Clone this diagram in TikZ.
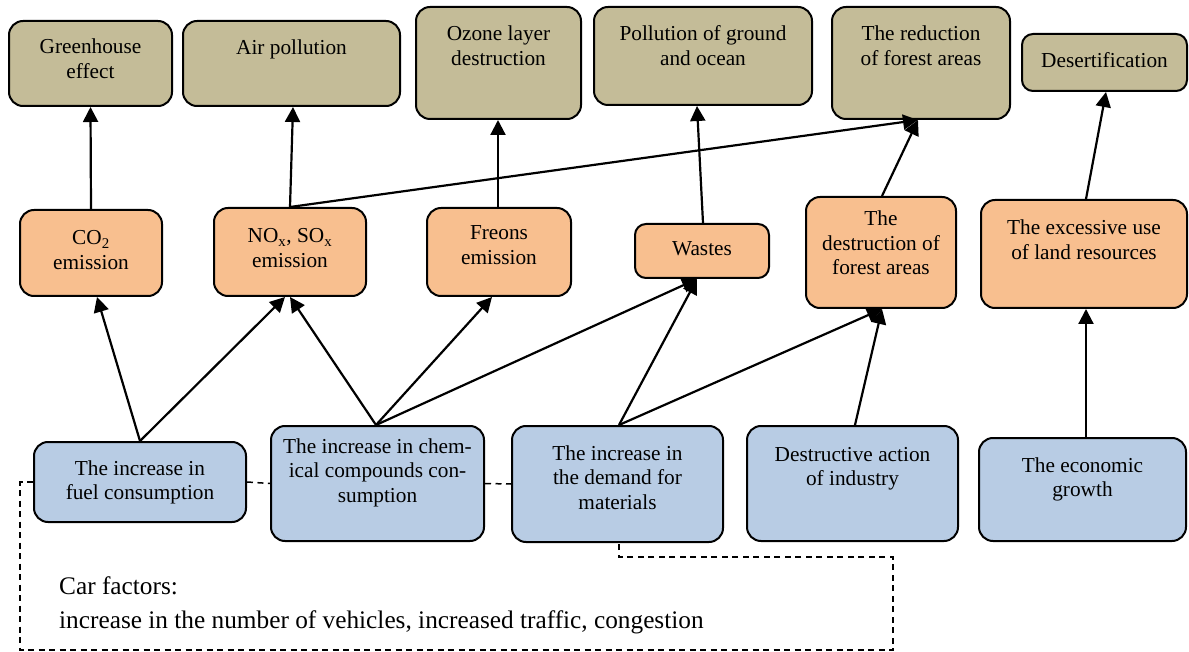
\documentclass[tikz,border=0pt]{standalone}
\usepackage{fontspec}
\setmainfont{Liberation Serif}
\usetikzlibrary{arrows.meta}
\definecolor{tanc}{RGB}{196,188,152}
\definecolor{orangec}{RGB}{248,191,143}
\definecolor{bluec}{RGB}{184,204,228}
\newcommand{\bt}[1]{\parbox[t]{300pt}{\centering\rmfamily #1}}
\begin{document}
\begin{tikzpicture}[x=1pt,y=-1pt,
  boxbase/.style={draw=black, line width=2pt, rounded corners=14pt, inner sep=0pt},
  tanbox/.style={boxbase, fill=tanc},
  orbox/.style={boxbase, fill=orangec},
  blbox/.style={boxbase, fill=bluec},
  txt/.style={anchor=base, inner sep=0pt, font=\rmfamily\fontsize{21.3}{24.5}\selectfont},
  arr/.style={line width=2.2pt, -{Triangle[length=15pt,width=15pt]}},
  dsh/.style={line width=1.5pt, dash pattern=on 6pt off 4.5pt}
]
\useasboundingbox (0,0) rectangle (1189,652);
% top row
\node[tanbox, minimum width=163pt, minimum height=85pt] (gh) at (90.5,63.5) {};
\node[tanbox, minimum width=217pt, minimum height=85pt] (air) at (291.5,63.5) {};
\node[tanbox, minimum width=165pt, minimum height=112pt] (oz) at (498.5,63) {};
\node[tanbox, minimum width=218pt, minimum height=98pt] (pol) at (703,56) {};
\node[tanbox, minimum width=178pt, minimum height=112pt] (red) at (921,63) {};
\node[tanbox, minimum width=165pt, minimum height=57pt, rounded corners=11pt] (des) at (1104.5,62.5) {};
% middle row
\node[orbox, minimum width=142pt, minimum height=86pt] (co2) at (91,253) {};
\node[orbox, minimum width=152pt, minimum height=88pt] (nox) at (290,252) {};
\node[orbox, minimum width=144pt, minimum height=88pt] (fre) at (499,252) {};
\node[orbox, minimum width=134pt, minimum height=54pt, rounded corners=11pt] (was) at (702,251) {};
\node[orbox, minimum width=150pt, minimum height=111pt] (dst) at (881,252.5) {};
\node[orbox, minimum width=206pt, minimum height=108pt] (exc) at (1084,254) {};
% bottom row
\node[blbox, minimum width=212pt, minimum height=80pt] (fuel) at (140,482) {};
\node[blbox, minimum width=213pt, minimum height=115pt] (chem) at (377.5,483.5) {};
\node[blbox, minimum width=211pt, minimum height=116pt] (mat) at (617.5,484) {};
\node[blbox, minimum width=211pt, minimum height=115pt] (ind) at (852.5,483.5) {};
\node[blbox, minimum width=207pt, minimum height=103pt] (eco) at (1082.5,489.5) {};
% texts
\node[txt] (tgh) at (90.5,54) {\bt{Greenhouse\\effect}};
\node[txt] (tair) at (291.5,55) {\bt{Air pollution}};
\node[txt] (toz) at (498.5,41) {\bt{Ozone layer\\destruction}};
\node[txt] (tpol) at (703,41) {\bt{Pollution of ground\\and ocean}};
\node[txt] (tred) at (921,41) {\bt{The reduction\\of forest areas}};
\node[txt] (tdes) at (1104.5,68) {\bt{Desertification}};
\node[txt] (tco2) at (91,245) {\bt{CO\textsubscript{2}\\emission}};
\node[txt] (tnox) at (290,243) {\bt{NO\textsubscript{x}, SO\textsubscript{x}\\emission}};
\node[txt] (tfre) at (499,240) {\bt{Freons\\emission}};
\node[txt] (twas) at (702,256) {\bt{Wastes}};
\node[txt] (tdst) at (881,226) {\bt{The\\destruction of\\forest areas}};
\node[txt] (texc) at (1084,235) {\bt{The excessive use\\of land resources}};
\node[txt] (tfuel) at (140,475) {\bt{The increase in\\fuel consumption}};
\node[txt] (tchem) at (377.5,453) {\bt{The increase in chem-\\ical compounds con-\\sumption}};
\node[txt] (tmat) at (617.5,460) {\bt{The increase in\\the demand for\\materials}};
\node[txt] (tind) at (852.5,461) {\bt{Destructive action\\of industry}};
\node[txt] (teco) at (1082.5,472) {\bt{The economic\\growth}};
% car factors
\node[anchor=base west, inner sep=0pt, font=\rmfamily\fontsize{25.3}{34}\selectfont, align=left] (car) at (59,594) {Car factors:};
\node[anchor=base west, inner sep=0pt, font=\rmfamily\fontsize{25.3}{34}\selectfont, align=left] (carl) at (59,628) {increase in the number of vehicles, increased traffic, congestion};
% dashed frame
\coordinate (d1) at (20,482);
\coordinate (d2) at (20,650);
\coordinate (d3) at (893,650);
\coordinate (d4) at (893,557);
\coordinate (d5) at (619,557);
\draw[dsh] (fuel.west) -- (d1) -- (d2) -- (d3) -- (d4) -- (d5) -- ([xshift=1.5pt]mat.south);
\draw[dsh] (fuel.east) -- (chem.west);
\draw[dsh] (chem.east) -- (mat.west);
% arrows upper
\draw[arr] (co2.north) -- (gh.south);
\draw[arr] (nox.north) -- ([xshift=1.5pt]air.south);
\draw[arr] (nox.north) -- ([xshift=-3pt]red.south);
\draw[arr] ([xshift=-1pt]fre.north) -- ([xshift=-0.5pt]oz.south);
\draw[arr] ([xshift=1pt]was.north) -- ([xshift=-6pt]pol.south);
\draw[arr] ([xshift=1pt]dst.north) -- ([xshift=-3pt]red.south);
\draw[arr] ([xshift=2pt]exc.north) -- ([xshift=1.5pt]des.south);
% arrows lower
\draw[arr] (fuel.north) -- ([xshift=6pt]co2.south);
\draw[arr] (fuel.north) -- ([xshift=-5pt]nox.south);
\draw[arr] ([xshift=-1.5pt]chem.north) -- (nox.south);
\draw[arr] ([xshift=-1.5pt]chem.north) -- ([xshift=-7pt]fre.south);
\draw[arr] ([xshift=-1.5pt]chem.north) -- ([xshift=-5pt]was.south);
\draw[arr] ([xshift=1.5pt]mat.north) -- ([xshift=-5pt]was.south);
\draw[arr] ([xshift=1.5pt]mat.north) -- ([xshift=1pt]dst.south);
\draw[arr] ([xshift=2.5pt]ind.north) -- ([xshift=1pt]dst.south);
\draw[arr] ([xshift=3.5pt]eco.north) -- ([xshift=2pt]exc.south);
\end{tikzpicture}
\end{document}
